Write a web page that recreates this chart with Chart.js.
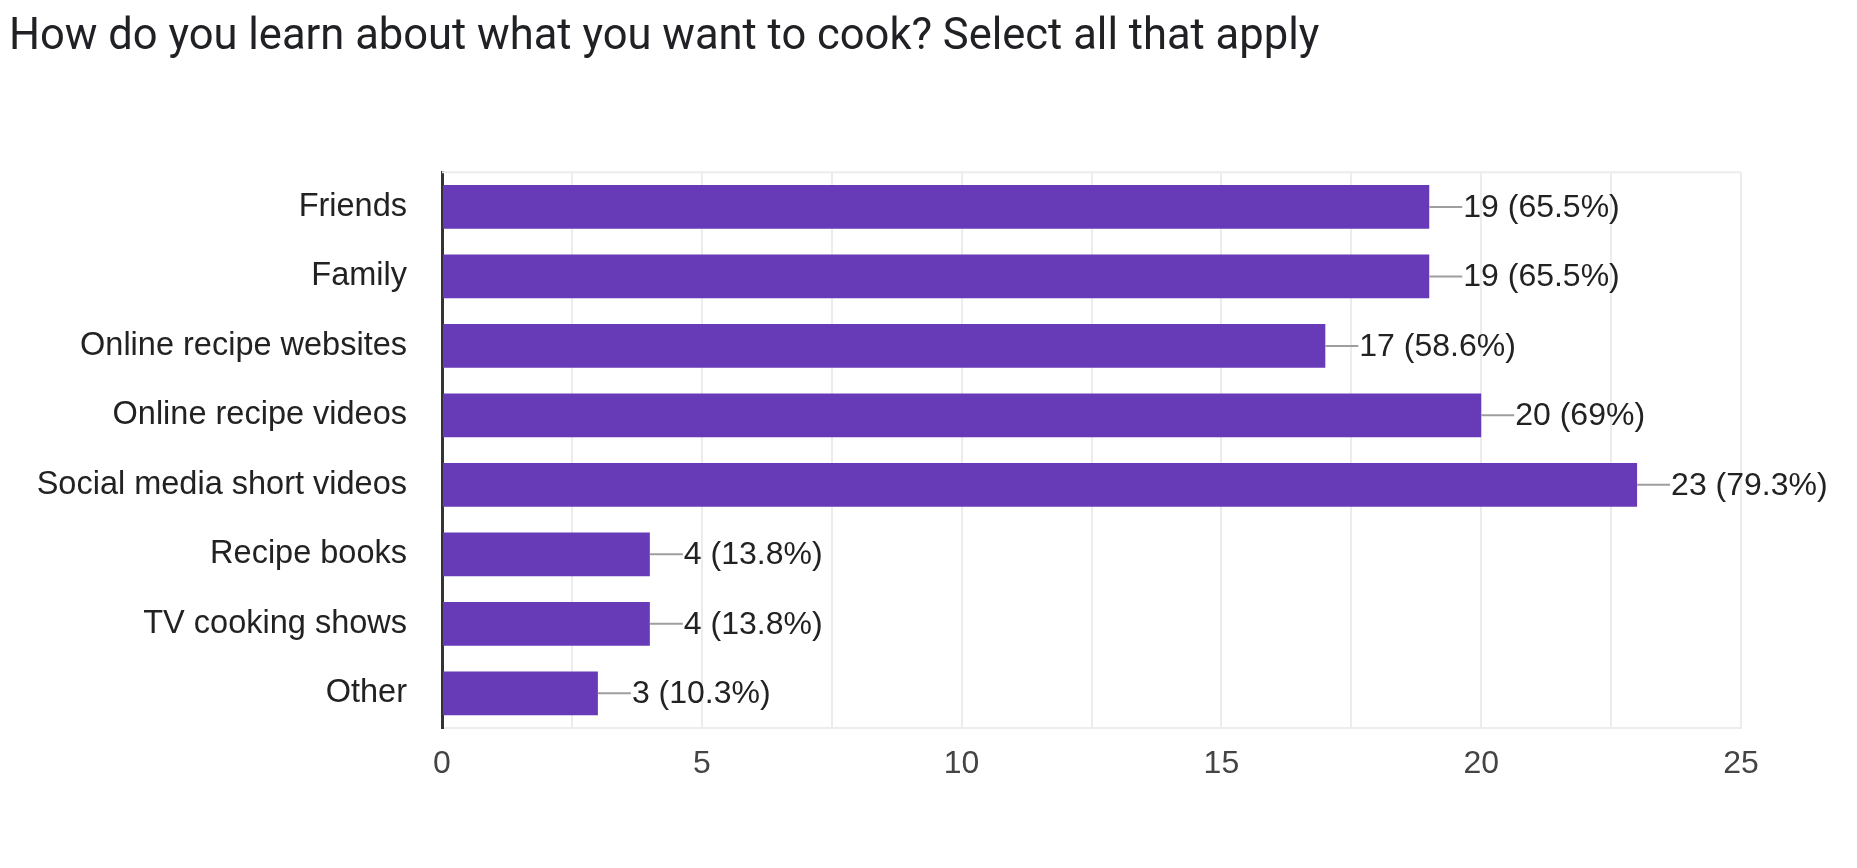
<!DOCTYPE html>
<html>
<head>
<meta charset="utf-8">
<script src="https://cdn.jsdelivr.net/npm/chart.js@4"></script>
<style>
  html, body { margin: 0; padding: 0; background: #fff; }
  #wrap { width: 1857px; height: 868px; }
</style>
</head>
<body>
<div id="wrap"><canvas id="cookChart"></canvas></div>
<script>
const categories = ["Friends", "Family", "Online recipe websites", "Online recipe videos",
  "Social media short videos", "Recipe books", "TV cooking shows", "Other"];
const counts = [19, 19, 17, 20, 23, 4, 4, 3];
const percents = ["65.5%", "65.5%", "58.6%", "69%", "79.3%", "13.8%", "13.8%", "10.3%"];
const xTicks = [0, 5, 10, 15, 20, 25];

const titleFont = "Roboto, 'Liberation Sans', Arial, sans-serif";
const chartFont = "'Liberation Sans', Arial, sans-serif";

// top edge of the plot frame + value labels with short leader lines
const frameAndLabels = {
  id: "frameAndLabels",
  beforeDatasetsDraw(chart) {
    const { ctx, chartArea } = chart;
    ctx.save();
    ctx.strokeStyle = "#ececec";
    ctx.lineWidth = 2;
    ctx.beginPath();
    ctx.moveTo(chartArea.left, chartArea.top);
    ctx.lineTo(chartArea.right, chartArea.top);
    ctx.stroke();
    ctx.restore();
  },
  afterDatasetsDraw(chart) {
    const { ctx } = chart;
    const meta = chart.getDatasetMeta(0);
    ctx.save();
    ctx.font = "32px " + chartFont;
    ctx.textBaseline = "middle";
    ctx.fillStyle = "#222";
    meta.data.forEach((bar, i) => {
      ctx.strokeStyle = "#9e9e9e";
      ctx.lineWidth = 2;
      ctx.beginPath();
      ctx.moveTo(bar.x, bar.y);
      ctx.lineTo(bar.x + 33, bar.y);
      ctx.stroke();
      ctx.fillText(counts[i] + " (" + percents[i] + ")", bar.x + 34, bar.y + 1);
    });
    ctx.restore();
  }
};

const ctx = document.getElementById("cookChart").getContext("2d");
new Chart(ctx, {
  type: "bar",
  data: {
    labels: categories,
    datasets: [{
      data: counts,
      backgroundColor: "#673ab7",
      borderWidth: 0,
      barPercentage: 0.63,
      categoryPercentage: 1
    }]
  },
  options: {
    indexAxis: "y",
    responsive: true,
    maintainAspectRatio: false,
    animation: false,
    layout: { padding: { left: 9, right: 116, top: 0, bottom: 0 } },
    plugins: {
      legend: { display: false },
      tooltip: { enabled: false },
      title: {
        display: true,
        text: "How do you learn about what you want to cook? Select all that apply",
        align: "start",
        color: "#202124",
        font: { family: titleFont, size: 43.5, weight: "normal" },
        padding: { top: 12, bottom: 108 }
      }
    },
    scales: {
      x: {
        min: xTicks[0],
        max: xTicks[xTicks.length - 1],
        ticks: {
          stepSize: 2.5,
          padding: 17,
          color: "#444",
          font: { family: chartFont, size: 32 },
          callback: (v) => (xTicks.includes(v) ? v : "")
        },
        grid: { color: "#ececec", lineWidth: 2, drawTicks: false },
        border: { color: "#ececec", width: 2 },
        afterFit: (scale) => { scale.height = 140; }
      },
      y: {
        ticks: {
          padding: 35,
          color: "#222",
          font: { family: chartFont, size: 32.5 }
        },
        grid: { display: false, drawTicks: false },
        border: { color: "#333", width: 3 },
        afterFit: (scale) => { scale.width = 433; }
      }
    }
  },
  plugins: [frameAndLabels]
});
</script>
</body>
</html>
